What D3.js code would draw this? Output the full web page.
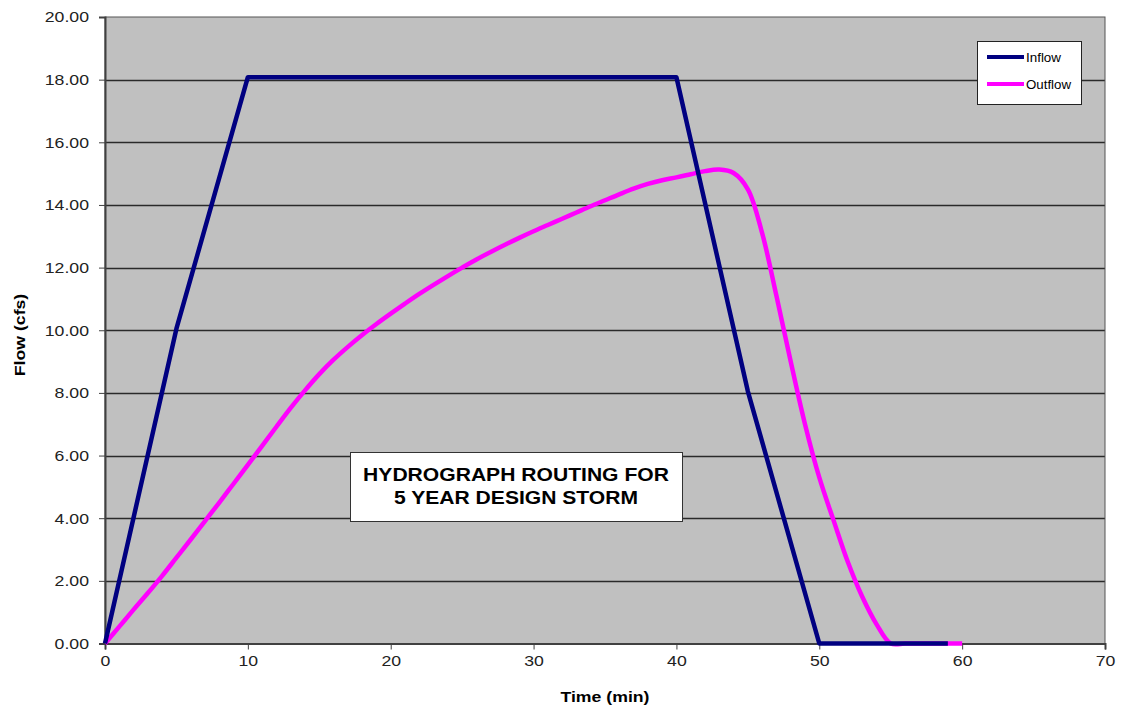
<!DOCTYPE html>
<html>
<head>
<meta charset="utf-8">
<script src="https://cdn.jsdelivr.net/npm/d3@7"></script>
<style>
  body { margin: 0; background: #ffffff; }
  svg text { font-family: "Liberation Sans", Arial, sans-serif; }
</style>
</head>
<body>
<div id="graph"></div>
<script>
    //Sets the dimensions of the graph.
    let w = 1121;
    let h = 708;
    let plotLeft = 105, plotRight = 1105, plotTop = 17, plotBottom = 643.5;

    //Time (min) values for each series.
    const inflowTime = [0, 5, 10, 40, 45, 50, 59];
    const inflowFlow = [0, 10.05, 18.08, 18.08, 8.05, 0, 0];

    const outflowTime = [0, 1, 2, 3, 4, 5, 6, 7, 8, 9, 10, 11, 12, 13, 14, 15, 16, 17, 18, 19, 20,
                         21, 22, 23, 24, 25, 26, 27, 28, 29, 30, 31, 32, 33, 34, 35, 36, 37, 38, 39, 40,
                         41, 42, 43, 44, 45, 46, 47, 48, 49, 50, 51, 52, 53, 54, 55, 56, 57, 58, 59, 60];
    const outflowFlow = [0, 0.54, 1.08, 1.61, 2.16, 2.74, 3.32, 3.91, 4.5, 5.1, 5.7, 6.31, 6.92, 7.52, 8.08, 8.6,
                         9.06, 9.47, 9.85, 10.2, 10.53, 10.85, 11.16, 11.45, 11.73, 12.0, 12.26, 12.5, 12.73,
                         12.95, 13.16, 13.36, 13.56, 13.76, 13.96, 14.15, 14.34, 14.52, 14.67, 14.79, 14.88,
                         14.98, 15.08, 15.13, 15.02, 14.5, 13.1, 11.1, 9.0, 7.0, 5.3, 3.93, 2.6, 1.5, 0.62,
                         0, 0, 0, 0, 0, 0];

    //Tick values for both axes.
    const xTicks = [0, 10, 20, 30, 40, 50, 60, 70];
    const yTicks = [0, 2, 4, 6, 8, 10, 12, 14, 16, 18, 20];

    const seriesNames = ["Inflow", "Outflow"];
    const seriesColors = ["#000080", "#ff00ff"];

    const noteLines = ["HYDROGRAPH ROUTING FOR", "5 YEAR DESIGN STORM"];

    //The original text is drawn a bit wider than Liberation Sans, so widen it.
    const widen = 1.14;
    function stretch(sel) {
        sel.each(function() {
            let len = this.getComputedTextLength();
            d3.select(this)
              .attr("textLength", len * widen)
              .attr("lengthAdjust", "spacingAndGlyphs");
        });
    }

    //Appends the svg element to the graph.
    const svg = d3.select('#graph')
                .append("svg")
                .attr("width", w)
                .attr("height", h);

    //Scales for the plot area.
    let xScale = d3.scaleLinear().domain([0, 70]).range([plotLeft, plotRight]);
    let yScale = d3.scaleLinear().domain([0, 20]).range([plotBottom, plotTop]);

    //Grey plot background.
    svg.append("rect")
        .attr("x", plotLeft)
        .attr("y", plotTop)
        .attr("width", plotRight - plotLeft)
        .attr("height", plotBottom - plotTop)
        .attr("fill", "#c0c0c0");

    //Horizontal gridlines.
    svg.append("g")
        .selectAll("line")
        .data(yTicks.slice(1, -1))
        .enter()
        .append("line")
        .attr("x1", plotLeft)
        .attr("x2", plotRight)
        .attr("y1", d => Math.round(yScale(d)) + 0.5)
        .attr("y2", d => Math.round(yScale(d)) + 0.5)
        .attr("stroke", "#2a2a2a")
        .attr("stroke-width", 1.3);

    //Plot border.
    svg.append("rect")
        .attr("x", plotLeft)
        .attr("y", plotTop)
        .attr("width", plotRight - plotLeft)
        .attr("height", plotBottom - plotTop)
        .attr("fill", "none")
        .attr("stroke", "#555")
        .attr("stroke-width", 1);

    //Draws the y-axis.
    let yAxis = d3.axisLeft(yScale)
        .tickValues(yTicks)
        .tickFormat(d3.format(".2f"))
        .tickSize(6)
        .tickPadding(10);

    let gy = svg.append("g")
        .attr("transform", "translate(" + plotLeft + ",0)")
        .call(yAxis);

    //Draws the x-axis.
    let xAxis = d3.axisBottom(xScale)
        .tickValues(xTicks)
        .tickFormat(d3.format("d"))
        .tickSize(6)
        .tickPadding(5);

    let gx = svg.append("g")
        .attr("transform", "translate(0," + plotBottom + ")")
        .call(xAxis);

    [gx, gy].forEach(g => {
        g.select(".domain").attr("stroke", "#404040").attr("stroke-width", 2);
        g.selectAll(".tick line").attr("stroke", "#404040");
        g.selectAll("text")
            .attr("fill", "#222")
            .style("font-size", "15.5px")
            .style("font-family", "'Liberation Sans', Arial, sans-serif")
            .call(stretch);
    });

    //Axis labels.
    svg.append("text")
        .attr("x", (plotLeft + plotRight) / 2)
        .attr("y", 702)
        .style("text-anchor", "middle")
        .style("font-size", "15.5px")
        .style("font-weight", "bold")
        .text("Time (min)")
        .call(stretch);

    svg.append("text")
        .attr("transform", "translate(25," + 335 + ") rotate(-90)")
        .style("text-anchor", "middle")
        .style("font-size", "15.5px")
        .style("font-weight", "bold")
        .text("Flow (cfs)")
        .call(stretch);

    //Line generator.
    const line = d3.line()
        .x(d => xScale(d[0]))
        .y(d => yScale(d[1]));

    //Outflow first so that inflow sits on top.
    let outflowData = outflowTime.map((t, i) => [t, outflowFlow[i]]);
    let inflowData = inflowTime.map((t, i) => [t, inflowFlow[i]]);

    svg.append("path")
        .datum(outflowData)
        .attr("fill", "none")
        .attr("stroke", seriesColors[1])
        .attr("stroke-width", 4.5)
        .attr("stroke-linejoin", "round")
        .attr("d", line.curve(d3.curveCatmullRom.alpha(0.5)));

    svg.append("path")
        .datum(inflowData)
        .attr("fill", "none")
        .attr("stroke", seriesColors[0])
        .attr("stroke-width", 4.5)
        .attr("stroke-linejoin", "round")
        .attr("d", line.curve(d3.curveLinear));

    //Note box in the middle of the chart.
    svg.append("rect")
        .attr("x", 350.5)
        .attr("y", 452.5)
        .attr("width", 332)
        .attr("height", 69)
        .attr("fill", "#ffffff")
        .attr("stroke", "#333")
        .attr("stroke-width", 1);

    svg.append("g")
        .selectAll("text")
        .data(noteLines)
        .enter()
        .append("text")
        .attr("x", 516)
        .attr("y", (d, i) => 481 + i * 23)
        .style("text-anchor", "middle")
        .style("font-size", "18.5px")
        .style("font-weight", "bold")
        .text(d => d)
        .call(stretch);

    //Legend.
    let legend = svg.append("g");

    legend.append("rect")
        .attr("x", 977.5)
        .attr("y", 41.5)
        .attr("width", 104)
        .attr("height", 63)
        .attr("fill", "#ffffff")
        .attr("stroke", "#222")
        .attr("stroke-width", 1);

    let items = legend.selectAll(".item")
        .data(seriesNames)
        .enter()
        .append("g")
        .attr("class", "item")
        .attr("transform", (d, i) => "translate(987," + (57 + i * 27) + ")");

    items.append("line")
        .attr("x1", 0)
        .attr("x2", 37)
        .attr("stroke", (d, i) => seriesColors[i])
        .attr("stroke-width", 4);

    items.append("text")
        .attr("x", 39)
        .attr("y", 4.5)
        .style("font-size", "12px")
        .attr("textLength", (d, i) => i === 0 ? 35 : 45)
        .attr("lengthAdjust", "spacingAndGlyphs")
        .text(d => d);
</script>
</body>
</html>
